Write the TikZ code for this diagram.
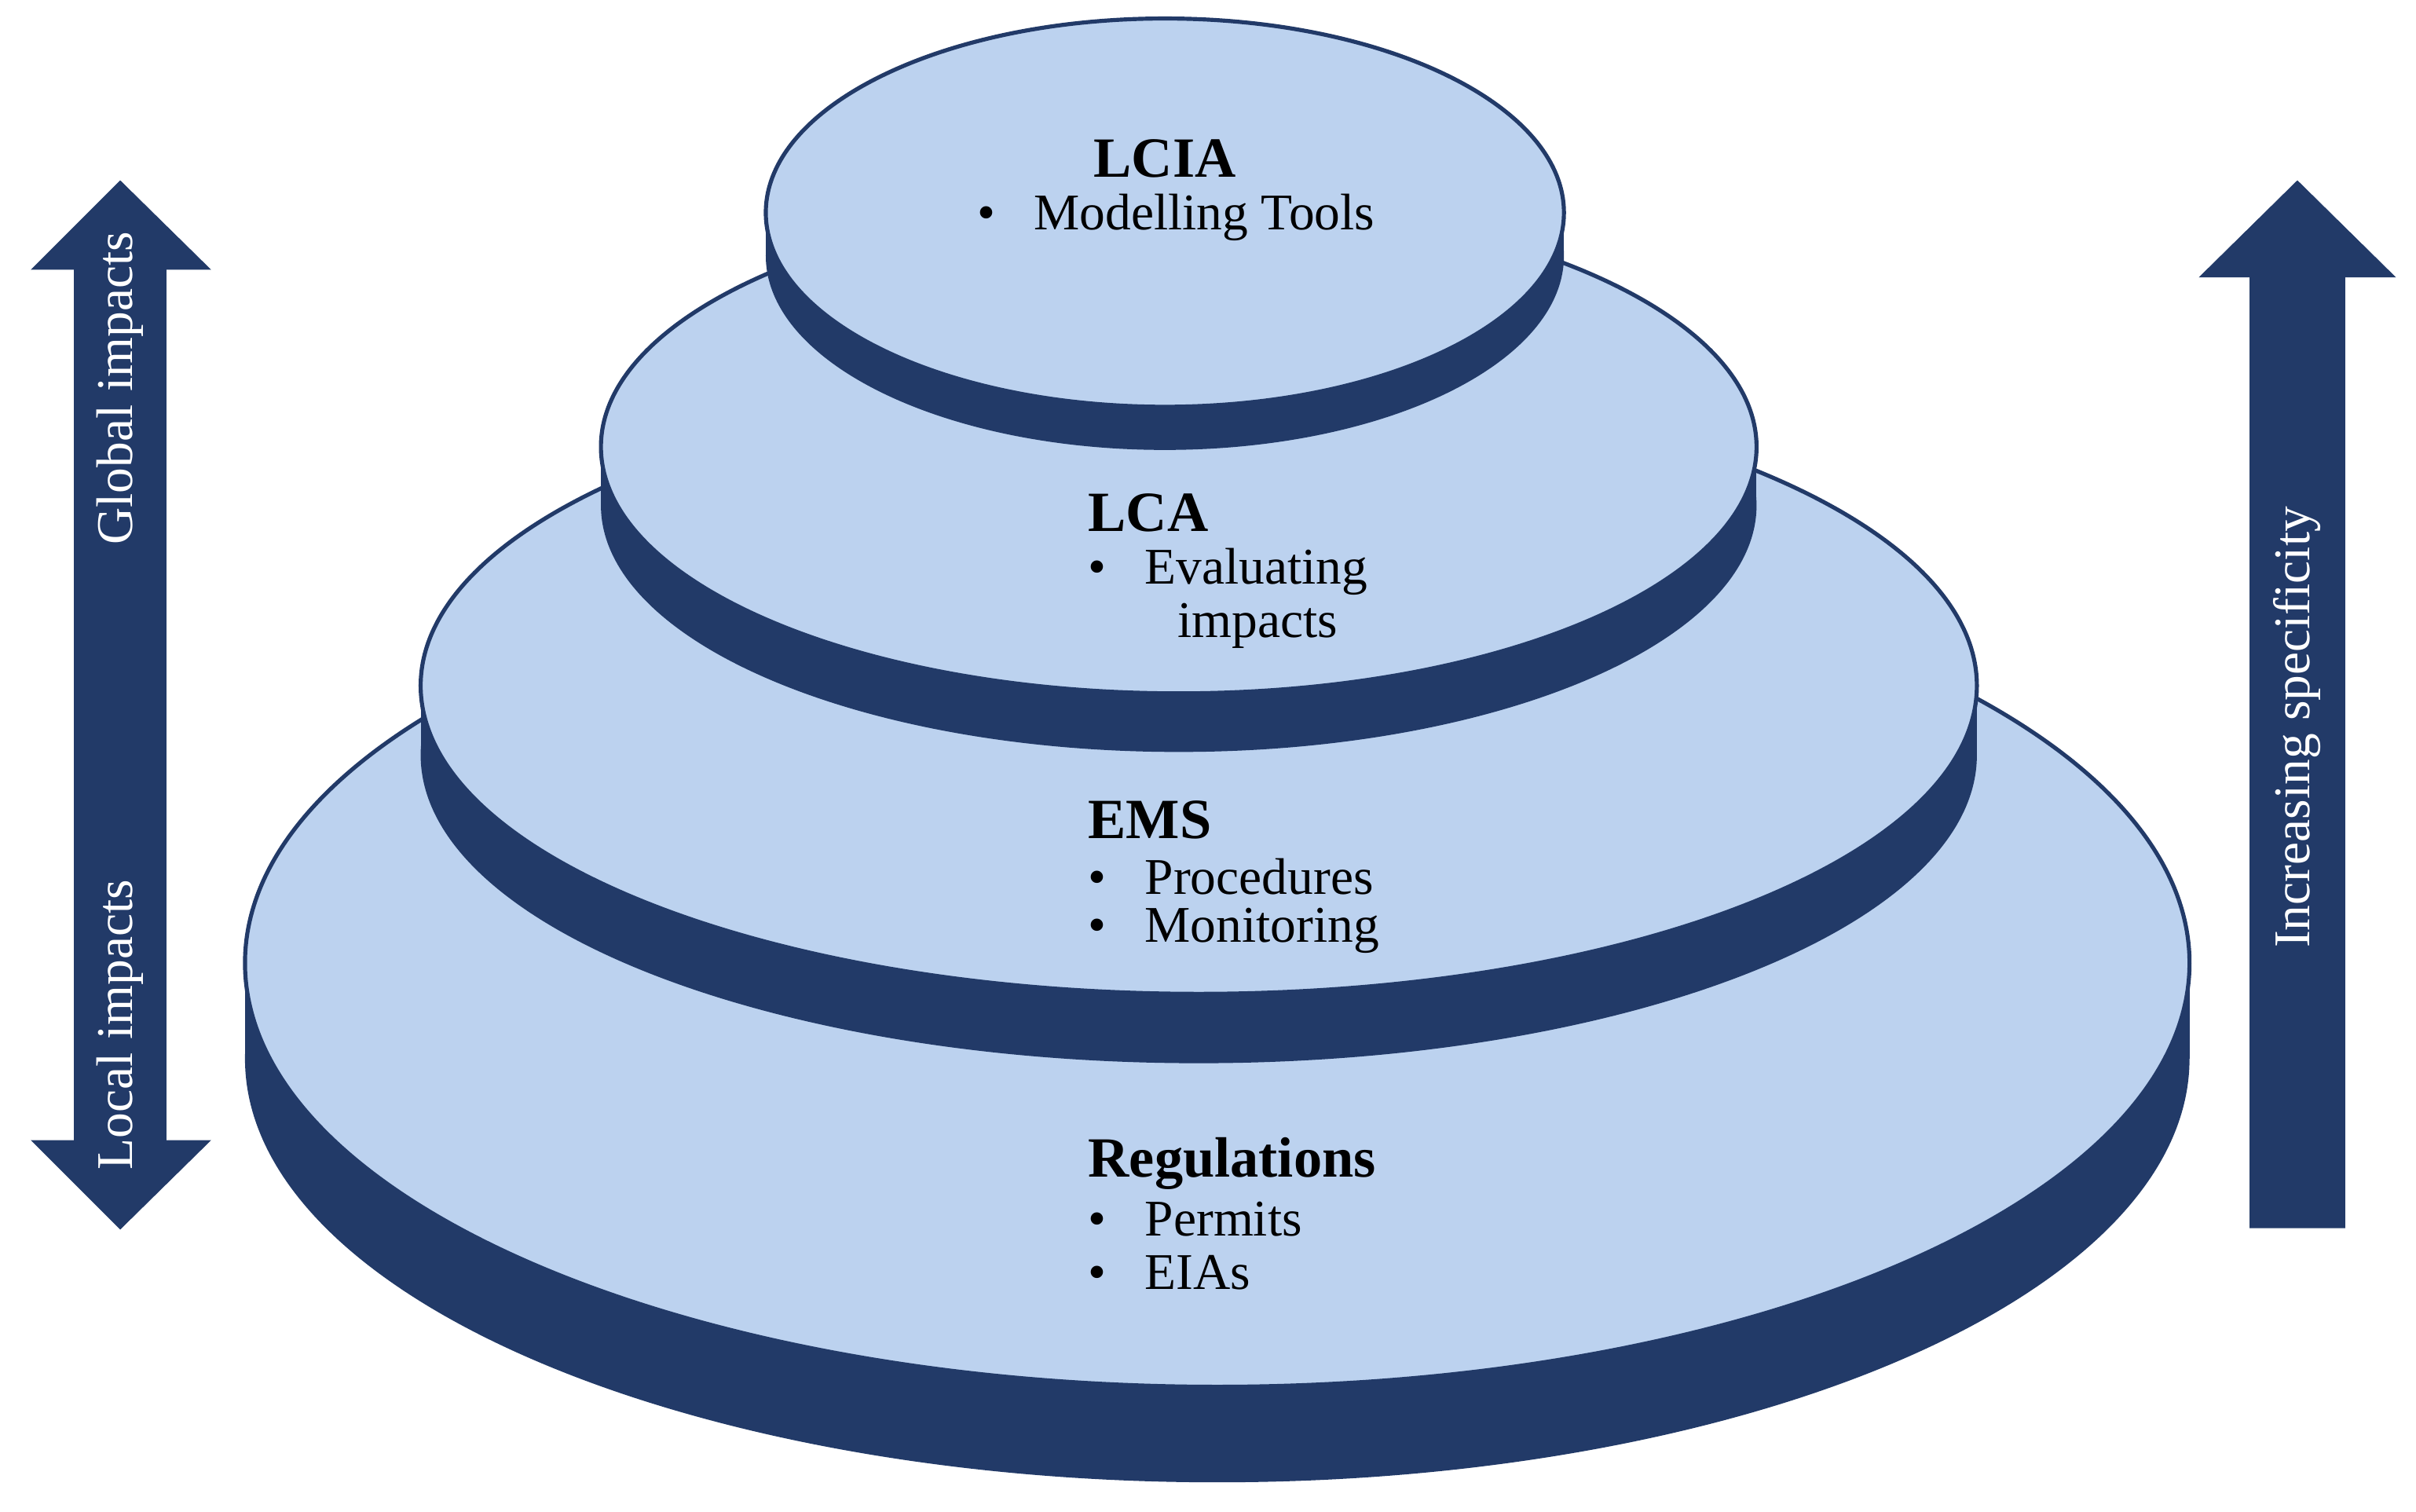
\documentclass[tikz,border=0pt]{standalone}
\usepackage{fontspec}
\setmainfont{Liberation Serif}
\begin{document}
\begin{tikzpicture}[x=0.02cm,y=-0.02cm,
  face/.style={fill=ltb,draw=dkb,line width=1.5pt},
  lbl/.style={font=\fontsize{19}{22}\selectfont,anchor=west,inner sep=0},
  hd/.style={font=\fontsize{21}{24}\selectfont\bfseries,inner sep=0},
  arr/.style={font=\fontsize{19}{22}\selectfont,text=white,rotate=90,inner sep=0}]
\definecolor{ltb}{HTML}{BCD2EF}
\definecolor{dkb}{HTML}{223A68}
\useasboundingbox (0,0) rectangle (1568,981);
\foreach \cx/\cy/\rx/\ry/\t in {790/625/631/275/62, 778/445/505/200/45, 765/290/375/160/38, 756/138/259/126/28}{
  \fill[dkb] (\cx,\cy+\t) ellipse [x radius=\rx, y radius=\ry];
  \fill[dkb] (\cx-\rx,\cy) rectangle (\cx+\rx,\cy+\t);
  \draw[face] (\cx,\cy) ellipse [x radius=\rx, y radius=\ry];
}
\node[hd] (h1) at (756,103) {LCIA};
\node[lbl] (b1) at (634,141) {•\hspace{0.75em}Modelling Tools};
\node[hd,anchor=west] (h2) at (706,333) {LCA};
\node[lbl] (b2) at (706,371) {•\hspace{0.75em}Evaluating};
\node[lbl] (b2b) at (764,406) {impacts};
\node[hd,anchor=west] (h3) at (706,532) {EMS};
\node[lbl] (b3) at (706,569) {•\hspace{0.75em}Procedures};
\node[lbl] (b3b) at (706,604) {•\hspace{0.75em}Monitoring};
\node[hd,anchor=west] (h4) at (706,755) {Regulations};
\node[lbl] (b4) at (706,791) {•\hspace{0.75em}Permits};
\node[lbl] (b4b) at (706,826) {•\hspace{0.75em}EIAs};
\fill[dkb] (78,117) -- (137,175) -- (108,175) -- (108,740) -- (137,740) -- (78,798)
  -- (20,740) -- (48,740) -- (48,175) -- (20,175) -- cycle;
\node[arr] (g) at (78,252) {Global impacts};
\node[arr] (l) at (78,665) {Local impacts};
\fill[dkb] (1491,117) -- (1555,180) -- (1522,180) -- (1522,797) -- (1460,797) -- (1460,180) -- (1427,180) -- cycle;
\node[arr] (s) at (1491,472) {Increasing specificity};
\end{tikzpicture}
\end{document}
